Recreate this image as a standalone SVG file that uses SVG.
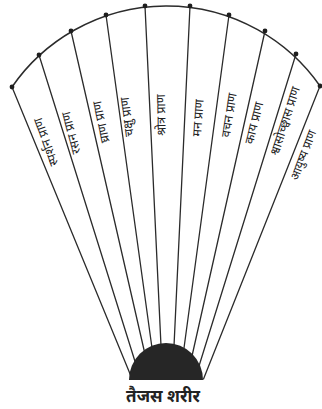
<svg xmlns="http://www.w3.org/2000/svg" width="322" height="409" viewBox="0 0 322 409">
  <style>
    .ln { stroke: #2b2b2b; stroke-width: 1.3; fill: none; stroke-linecap: round; }
    .arc { stroke: #2b2b2b; stroke-width: 1.5; fill: none; }
    .dot { fill: #1e1e1e; }
    .lbl { font-family: "Noto Sans Devanagari", "Lohit Devanagari", "FreeSans", "Noto Sans", sans-serif; font-size: 12.5px; fill: #222; text-anchor: middle; }
    .body-lbl { font-family: "Noto Sans Devanagari", "Lohit Devanagari", "FreeSans", "Noto Sans", sans-serif; font-size: 17px; font-weight: bold; fill: #222; text-anchor: middle; }
  </style>
  <rect width="322" height="409" fill="#fff"/>
  <path class="arc" d="M 12 87 A 187.5 187.5 0 0 1 320 86"/>
  <g id="connectors">
    <line class="ln" x1="12" y1="87" x2="130.5" y2="375"/>
    <line class="ln" x1="39" y1="55" x2="135.5" y2="363"/>
    <line class="ln" x1="71" y1="31" x2="144.5" y2="352"/>
    <line class="ln" x1="106" y1="15" x2="152" y2="348"/>
    <line class="ln" x1="145" y1="6" x2="161" y2="346"/>
    <line class="ln" x1="190" y1="6" x2="174" y2="346"/>
    <line class="ln" x1="229" y1="15" x2="184" y2="348"/>
    <line class="ln" x1="265" y1="31" x2="192" y2="356"/>
    <line class="ln" x1="296" y1="54" x2="199" y2="366"/>
    <line class="ln" x1="320" y1="86" x2="203.5" y2="379"/>
  </g>
  <g id="taijas-sharir">
    <path d="M 129 380 A 37 37 0 0 1 203 380 Z" fill="#262626"/>
    <text class="body-lbl" x="163" y="402">तैजस शरीर</text>
  </g>
  <g id="sparshan">
    <circle class="dot" cx="12" cy="87" r="2.4"/>
    <text class="lbl" transform="translate(46,142) rotate(-110)" y="4.3">स्पर्शन प्राण</text>
  </g>
  <g id="rasan">
    <circle class="dot" cx="39" cy="55" r="2.4"/>
    <text class="lbl" transform="translate(71,133) rotate(-105)" y="4.3">रसन प्राण</text>
  </g>
  <g id="ghran">
    <circle class="dot" cx="71" cy="31" r="2.4"/>
    <text class="lbl" transform="translate(101,122) rotate(-102)" y="4.3">घ्राण प्राण</text>
  </g>
  <g id="chakshu">
    <circle class="dot" cx="106" cy="15" r="2.4"/>
    <text class="lbl" transform="translate(127,117) rotate(-97.5)" y="4.3">चक्षु प्राण</text>
  </g>
  <g id="shrotra">
    <circle class="dot" cx="145" cy="6" r="2.4"/>
    <text class="lbl" transform="translate(161,115) rotate(-91)" y="4.3">श्रोत्र प्राण</text>
  </g>
  <g id="man">
    <circle class="dot" cx="190" cy="6" r="2.4"/>
    <text class="lbl" transform="translate(198,118) rotate(-86)" y="4.3">मन प्राण</text>
  </g>
  <g id="vachan">
    <circle class="dot" cx="229" cy="15" r="2.4"/>
    <text class="lbl" transform="translate(229,115) rotate(-81)" y="4.3">वचन प्राण</text>
  </g>
  <g id="kay">
    <circle class="dot" cx="265" cy="31" r="2.4"/>
    <text class="lbl" transform="translate(254,123) rotate(-76)" y="4.3">काय प्राण</text>
  </g>
  <g id="shvasochchhvas">
    <circle class="dot" cx="296" cy="54" r="2.4"/>
    <text class="lbl" transform="translate(285,121) rotate(-72)" y="4.3">श्वासोच्छ्वास प्राण</text>
  </g>
  <g id="ayushya">
    <circle class="dot" cx="320" cy="86" r="2.4"/>
    <text class="lbl" transform="translate(303,155) rotate(-69)" y="4.3" style="font-size:12px">आयुष्य प्राण</text>
  </g>
</svg>
